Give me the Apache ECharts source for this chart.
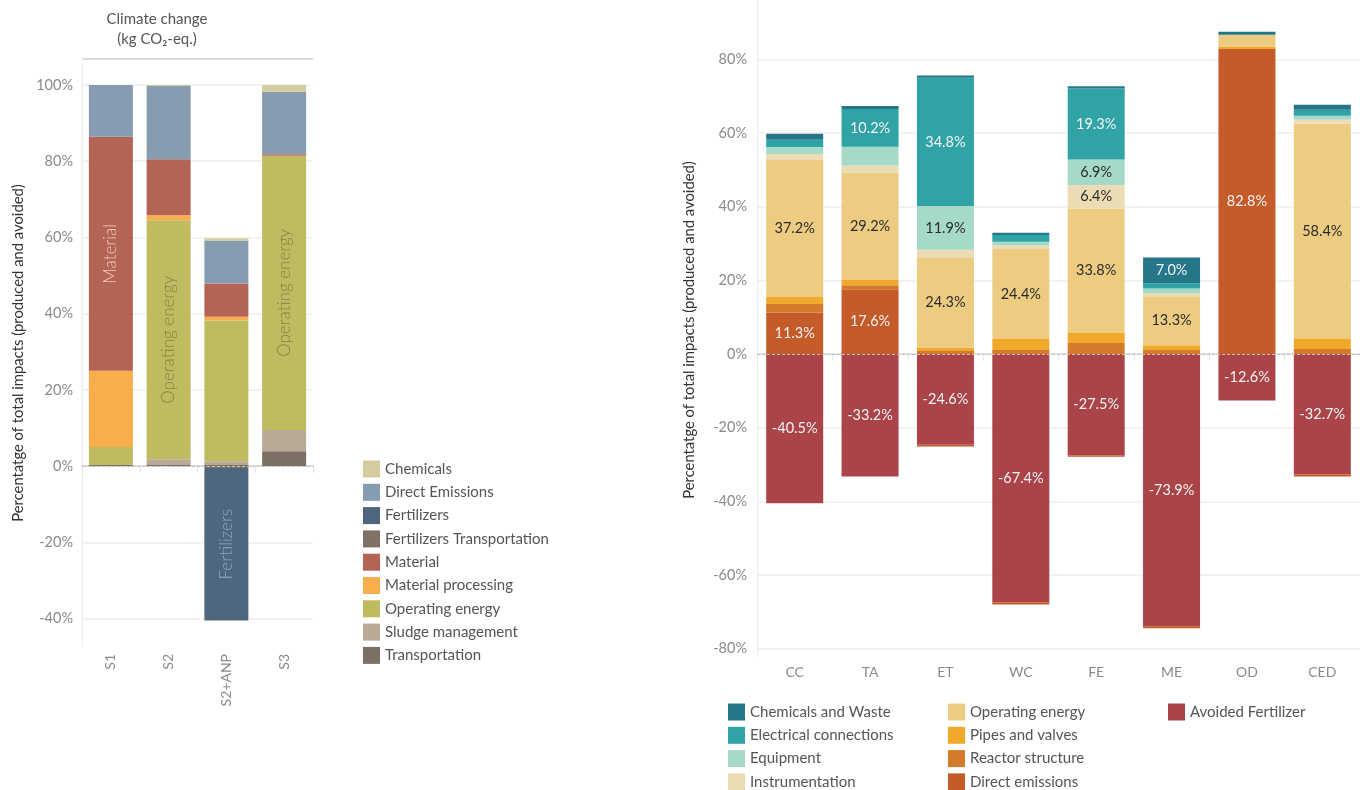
<!DOCTYPE html>
<html>
<head>
<meta charset="utf-8">
<script src="https://cdn.jsdelivr.net/npm/echarts@6.0.0/dist/echarts.min.js"></script>
<style>
html,body{margin:0;padding:0;background:#fff;width:1360px;height:790px;overflow:hidden;}
#left{position:absolute;left:0;top:0;width:680px;height:900px;}
#right{position:absolute;left:680px;top:0;width:680px;height:900px;}
</style>
</head>
<body>
<div id="left"></div>
<div id="right"></div>
<script>
// ---------- Left chart data ----------
const leftTitle = 'Climate change\n(kg CO₂-eq.)';
const axisTitle = 'Percentatge of total impacts (produced and avoided)';
const leftCategories = ['S1', 'S2', 'S2+ANP', 'S3'];
const leftTicks = [-40, -20, 0, 20, 40, 60, 80, 100];
const leftLegendOrder = ['Chemicals', 'Direct Emissions', 'Fertilizers', 'Fertilizers Transportation', 'Material', 'Material processing', 'Operating energy', 'Sludge management', 'Transportation'];
const lTransportation = [0.3, 0.3, 0.3, 3.9];
const lSludge = [0, 1.5, 1.0, 5.6];
const lOperating = [4.7, 62.7, 36.9, 71.9];
const lMatProcessing = [20.0, 1.3, 1.0, 0];
const lMaterial = [61.4, 14.7, 8.7, 0.4];
const lFertTransport = [0, 0, -0.5, 0];
const lFertilizers = [0, 0, -40.0, 0];
const lDirect = [13.6, 19.2, 11.3, 16.4];
const lChemicals = [0, 0.3, 0.6, 1.8];
const lMaterialLabels = ['Material', '', '', ''];
const lOperatingLabels = ['', 'Operating energy', '', 'Operating energy'];
const lFertilizerLabels = ['', '', 'Fertilizers', ''];

// ---------- Right chart data ----------
const rightCategories = ['CC', 'TA', 'ET', 'WC', 'FE', 'ME', 'OD', 'CED'];
const rightTicks = [-80, -60, -40, -20, 0, 20, 40, 60, 80];
const rDirect = [11.3, 17.6, -0.5, -0.6, -0.4, -0.5, 82.8, -0.5];
const rReactor = [2.3, 1.1, 0.8, 1.1, 3.0, 1.1, 0, 1.4];
const rPipes = [1.9, 1.4, 1.0, 3.0, 2.7, 1.3, 0.7, 2.7];
const rOperating = [37.2, 29.2, 24.3, 24.4, 33.8, 13.3, 3.2, 58.4];
const rInstrumentation = [1.6, 1.9, 2.2, 1.0, 6.4, 0.8, 0, 1.1];
const rEquipment = [1.9, 5.1, 11.9, 1.0, 6.9, 1.3, 0, 1.1];
const rElectrical = [2.0, 10.2, 34.8, 1.8, 19.3, 1.4, 0, 1.6];
const rChemWaste = [1.6, 0.8, 0.6, 0.6, 0.6, 7.0, 0.8, 1.4];
const rAvoided = [-40.5, -33.2, -24.6, -67.4, -27.5, -73.9, -12.6, -32.7];
const rightLegendCol1 = ['Chemicals and Waste', 'Electrical connections', 'Equipment', 'Instrumentation'];
const rightLegendCol2 = ['Operating energy', 'Pipes and valves', 'Reactor structure', 'Direct emissions'];
const rightLegendCol3 = ['Avoided Fertilizer'];

const FONT = 'Lato, "Noto Sans", sans-serif';

// ================= LEFT =================
const leftChart = echarts.init(document.getElementById('left'), null, {renderer: 'canvas'});
function lSeries(name, data, color, labels, labelColor) {
  const s = {
    name: name, type: 'bar', stack: 'a', barWidth: 44, xAxisIndex: 0, yAxisIndex: 0,
    itemStyle: {color: color},
    emphasis: {disabled: true},
    data: labels ? data.map((v, i) => ({
      value: v,
      label: labels[i] ? {show: true, formatter: labels[i]} : {show: false}
    })) : data,
    label: {show: false, position: 'inside', rotate: 90, fontSize: 17, fontWeight: 300, fontFamily: FONT, color: labelColor || '#fff'}
  };
  return s;
}
const leftSeries = [
  lSeries('Transportation', lTransportation, '#7c6f64'),
  lSeries('Sludge management', lSludge, '#b9aa97'),
  lSeries('Operating energy', lOperating, '#bfbb61', lOperatingLabels, '#858140'),
  lSeries('Material processing', lMatProcessing, '#f8ae4c'),
  lSeries('Material', lMaterial, '#b46455', lMaterialLabels, '#f3c7b8'),
  lSeries('Fertilizers Transportation', lFertTransport, '#807267'),
  lSeries('Fertilizers', lFertilizers, '#4e667e', lFertilizerLabels, '#8fa9c3'),
  lSeries('Direct Emissions', lDirect, '#869cb0'),
  lSeries('Chemicals', lChemicals, '#d4cc9e')
];
// gridlines + zero line
leftSeries[0].markLine = {
  silent: true, symbol: 'none', z: 1, label: {show: false},
  lineStyle: {color: '#efefef', width: 1.5, type: 'solid'},
  data: leftTicks.filter(t => t !== 0).map(t => ({yAxis: t}))
};
leftSeries[1].markLine = {
  silent: true, symbol: 'none', z: 6, label: {show: false},
  lineStyle: {color: '#c4c4c4', width: 1, type: [3, 2]},
  data: [{yAxis: 0}]
};

leftChart.setOption({
  animation: false,
  textStyle: {fontFamily: FONT},
  grid: {left: 82, top: 59, width: 231, height: 587, containLabel: false},
  xAxis: {
    type: 'category', data: leftCategories,
    axisLine: {show: true, lineStyle: {color: '#dedede', width: 2}},
    axisTick: {show: true, length: 7, lineStyle: {color: '#e3e3e3', width: 1}, interval: 0},
    axisLabel: {rotate: 90, color: '#8a8a8a', fontSize: 14, margin: 8, fontFamily: FONT},
    splitLine: {show: false}
  },
  yAxis: {
    type: 'value', min: -47.2, max: 106.8,
    axisLine: {show: true, lineStyle: {color: '#ececec', width: 1}},
    axisTick: {show: false},
    splitLine: {show: false},
    axisLabel: {customValues: leftTicks, formatter: v => v + '%', color: '#8a8a8a', fontSize: 14.5, margin: 9, fontFamily: FONT}
  },
  legend: {
    orient: 'vertical', left: 363, top: 460.5, itemWidth: 17, itemHeight: 17, itemGap: 6.3,
    icon: 'rect', padding: 0, selectedMode: false,
    textStyle: {fontSize: 15, color: '#555', fontFamily: FONT, lineHeight: 17},
    data: leftLegendOrder
  },
  graphic: [
    {type: 'text', x: 157, y: 29, style: {text: leftTitle, align: 'center', verticalAlign: 'middle', fontSize: 15, lineHeight: 20, fill: '#555', fontFamily: FONT}},
    {type: 'line', shape: {x1: 82, y1: 59, x2: 313, y2: 59}, style: {stroke: '#cfcfcf', lineWidth: 1.5}},
    {type: 'text', x: 18, y: 353, rotation: Math.PI / 2, style: {text: axisTitle, align: 'center', verticalAlign: 'middle', fontSize: 14.8, fill: '#333', fontFamily: FONT}}
  ],
  series: leftSeries
});

// ================= RIGHT =================
const rightChart = echarts.init(document.getElementById('right'), null, {renderer: 'canvas'});
function rSeries(name, data, color, labelColor) {
  return {
    name: name, type: 'bar', stack: 'b', barWidth: 57,
    itemStyle: {color: color},
    emphasis: {disabled: true},
    label: {
      show: true, position: 'inside', fontSize: 14.5, fontFamily: FONT, color: labelColor,
      formatter: p => Math.abs(p.value) >= 6 ? p.value.toFixed(1) + '%' : ''
    },
    data: data
  };
}
const LIGHT = '#f3f3f3', DARK = '#2b2b2b';
const rightSeries = [
  rSeries('Avoided Fertilizer', rAvoided, '#ab4449', LIGHT),
  rSeries('Direct emissions', rDirect, '#c65b2a', LIGHT),
  rSeries('Reactor structure', rReactor, '#d37b2a', LIGHT),
  rSeries('Pipes and valves', rPipes, '#f0a92b', DARK),
  rSeries('Operating energy', rOperating, '#edcc82', DARK),
  rSeries('Instrumentation', rInstrumentation, '#ecdcb4', DARK),
  rSeries('Equipment', rEquipment, '#a5dac8', DARK),
  rSeries('Electrical connections', rElectrical, '#2fa3a6', LIGHT),
  rSeries('Chemicals and Waste', rChemWaste, '#26768a', LIGHT)
];
rightSeries[0].markLine = {
  silent: true, symbol: 'none', z: 1, label: {show: false},
  lineStyle: {color: '#efefef', width: 1.5, type: 'solid'},
  data: rightTicks.filter(t => t !== 0).map(t => ({yAxis: t}))
};
rightSeries[1].markLine = {
  silent: true, symbol: 'none', z: 6, label: {show: false},
  lineStyle: {color: '#c4c4c4', width: 1, type: [3, 2]},
  data: [{yAxis: 0}]
};
function rLegend(left, data) {
  return {
    orient: 'vertical', left: left, top: 703.5, itemWidth: 17, itemHeight: 17, itemGap: 6.3,
    icon: 'rect', padding: 0, selectedMode: false,
    textStyle: {fontSize: 15, color: '#555', fontFamily: FONT, lineHeight: 17},
    data: data
  };
}
rightChart.setOption({
  animation: false,
  textStyle: {fontFamily: FONT},
  grid: {left: 77, top: 0, width: 610, height: 656, containLabel: false},
  xAxis: {
    type: 'category', data: rightCategories,
    axisLine: {show: true, lineStyle: {color: '#e3e3e3', width: 2}},
    axisTick: {show: true, length: 7, lineStyle: {color: '#e6e6e6', width: 1}, interval: 0},
    axisLabel: {color: '#8a8a8a', fontSize: 14, margin: 9, fontFamily: FONT},
    splitLine: {show: false}
  },
  yAxis: {
    type: 'value', min: -81.95, max: 96.1,
    axisLine: {show: true, lineStyle: {color: '#ececec', width: 1}},
    axisTick: {show: false},
    splitLine: {show: false},
    axisLabel: {customValues: rightTicks, formatter: v => v + '%', color: '#8a8a8a', fontSize: 14.5, margin: 10, fontFamily: FONT}
  },
  legend: [rLegend(48, rightLegendCol1), rLegend(268, rightLegendCol2), rLegend(488, rightLegendCol3)],
  graphic: [
    {type: 'text', x: 9, y: 330, rotation: Math.PI / 2, style: {text: axisTitle, align: 'center', verticalAlign: 'middle', fontSize: 14.8, fill: '#333', fontFamily: FONT}}
  ],
  series: rightSeries
});
</script>
</body>
</html>
